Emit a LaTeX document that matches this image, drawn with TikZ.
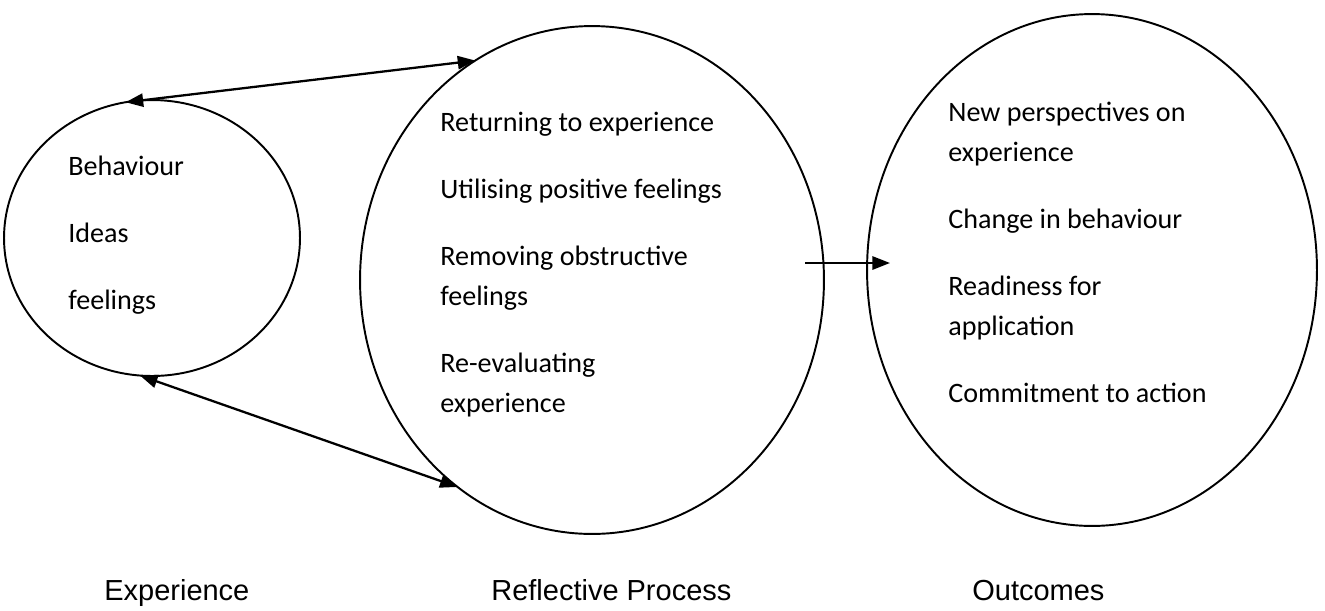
\documentclass[tikz,border=0pt]{standalone}
\usepackage{fontspec}
\setmainfont{Carlito}
\newfontfamily\arialfont{Liberation Sans}
\usetikzlibrary{shapes.geometric,arrows.meta}

\tikzset{
  bubble/.style={draw,ellipse,line width=1.1pt,inner sep=0pt,outer sep=0pt},
  lines/.style={anchor=base west,align=left,inner sep=0pt,font=\fontsize{16}{22.7}\selectfont},
  caption/.style={anchor=base west,inner sep=0pt,font=\arialfont\fontsize{16.5}{19}\selectfont},
  twoway/.style={{Triangle[length=10pt,width=7.5pt]}-{Triangle[length=10pt,width=7.5pt]},line width=1.3pt},
  oneway/.style={-{Triangle[length=10pt,width=7.5pt]},line width=1.3pt}
}

\begin{document}
\begin{tikzpicture}[x=0.02cm,y=-0.02cm]
\useasboundingbox (0,0) rectangle (1325,610);

% the three stages
\node[bubble,minimum width=5.92cm,minimum height=5.52cm] (exp) at (152,238) {};
\node[bubble,minimum width=9.28cm,minimum height=10.16cm] (refl) at (592,280) {};
\node[bubble,minimum width=9cm,minimum height=10.24cm] (out) at (1092,270) {};

% texts, placed by the baseline of their last line
\node[lines] (exptext) at (68,309) {Behaviour\\[15.3pt]Ideas\\[15.3pt]feelings};
\node[lines] (refltext) at (440,412) {Returning to experience\\[15.3pt]Utilising positive feelings\\[15.3pt]Removing obstructive\\feelings\\[15.3pt]Re-evaluating\\experience};
\node[lines] (outtext) at (948,402) {New perspectives on\\experience\\[15.3pt]Change in behaviour\\[15.3pt]Readiness for\\application\\[15.3pt]Commitment to action};

% links
\draw[twoway] (exp.101) -- (refl.118);
\draw[twoway] (exp.265) -- (refl.237);
\coordinate (pushA) at (805,263);
\coordinate (pushB) at (890,263);
\draw[oneway] (pushA) -- (pushB);

% stage names
\node[caption] (explbl) at (104,600) {Experience};
\node[caption] (refllbl) at (491,600) {Reflective Process};
\node[caption] (outlbl) at (972,600) {Outcomes};
\end{tikzpicture}
\end{document}
